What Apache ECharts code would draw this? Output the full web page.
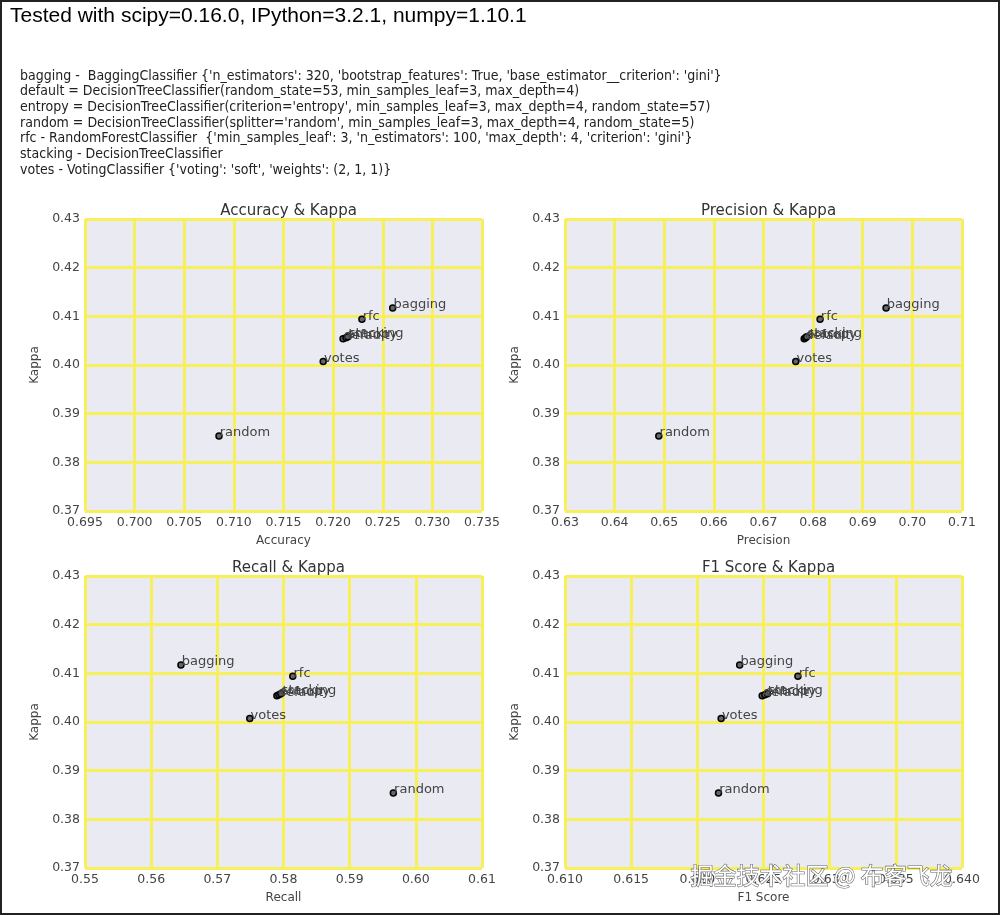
<!DOCTYPE html>
<html>
<head>
<meta charset="utf-8">
<script src="https://cdn.jsdelivr.net/npm/echarts@6/dist/echarts.min.js"></script>
<style>html,body{margin:0;padding:0;background:#fff}#c{width:1000px;height:915px}</style>
</head>
<body>
<div id="c"></div>
<script>
const names = ['bagging', 'default', 'entropy', 'random', 'rfc', 'stacking', 'votes'];
const kappa = [0.4117, 0.4054, 0.4056, 0.3854, 0.4094, 0.4058, 0.4007];
const accuracy = [0.7260, 0.7210, 0.7213, 0.7085, 0.7229, 0.7215, 0.7190];
const precision = [0.6947, 0.6782, 0.6785, 0.6489, 0.6814, 0.6787, 0.6765];
const recall = [0.5645, 0.5790, 0.5793, 0.5966, 0.5814, 0.5796, 0.5749];
const f1 = [0.6232, 0.6249, 0.6251, 0.6216, 0.6276, 0.6253, 0.6218];

const header = 'Tested with scipy=0.16.0, IPython=3.2.1, numpy=1.10.1';
const infoLines = [
  "bagging -  BaggingClassifier {'n_estimators': 320, 'bootstrap_features': True, 'base_estimator__criterion': 'gini'}",
  "default = DecisionTreeClassifier(random_state=53, min_samples_leaf=3, max_depth=4)",
  "entropy = DecisionTreeClassifier(criterion='entropy', min_samples_leaf=3, max_depth=4, random_state=57)",
  "random = DecisionTreeClassifier(splitter='random', min_samples_leaf=3, max_depth=4, random_state=5)",
  "rfc - RandomForestClassifier  {'min_samples_leaf': 3, 'n_estimators': 100, 'max_depth': 4, 'criterion': 'gini'}",
  "stacking - DecisionTreeClassifier",
  "votes - VotingClassifier {'voting': 'soft', 'weights': (2, 1, 1)}"
];

const panels = [
  {title: 'Accuracy & Kappa', xName: 'Accuracy', x: accuracy, min: 0.695, max: 0.735, step: 0.005, dec: 3},
  {title: 'Precision & Kappa', xName: 'Precision', x: precision, min: 0.63, max: 0.71, step: 0.01, dec: 2},
  {title: 'Recall & Kappa', xName: 'Recall', x: recall, min: 0.55, max: 0.61, step: 0.01, dec: 2},
  {title: 'F1 Score & Kappa', xName: 'F1 Score', x: f1, min: 0.610, max: 0.640, step: 0.005, dec: 3}
];
const yTicks = {min: 0.37, max: 0.43, step: 0.01};

const layout = [
  {left: 85, top: 219}, {left: 565, top: 219},
  {left: 85, top: 576}, {left: 565, top: 576}
];
const GW = 397, GH = 292;
const gridColor = '#f7f05a';
const tickColor = '#444';
const fontFam = '"DejaVu Sans", sans-serif';

const chart = echarts.init(document.getElementById('c'), null, {renderer: 'canvas'});

const grids = [], xAxes = [], yAxes = [], series = [], titles = [];
panels.forEach((p, i) => {
  const L = layout[i];
  grids.push({left: L.left, top: L.top, width: GW, height: GH, show: true, backgroundColor: '#eaeaf2', borderWidth: 0});
  titles.push({text: p.title, left: L.left + GW / 2, top: L.top - 20, textAlign: 'center',
    textStyle: {fontFamily: fontFam, fontSize: 15, fontWeight: 'normal', color: '#333'}});
  xAxes.push({
    type: 'value', gridIndex: i, min: p.min, max: p.max, interval: p.step,
    name: p.xName, nameLocation: 'middle', nameGap: 24,
    nameTextStyle: {fontFamily: fontFam, fontSize: 12, color: tickColor},
    axisLine: {show: false}, axisTick: {show: false},
    axisLabel: {fontFamily: fontFam, fontSize: 12.5, color: tickColor, margin: 5,
      formatter: v => v.toFixed(p.dec)},
    splitLine: {show: true, lineStyle: {color: gridColor, width: 3}}
  });
  yAxes.push({
    type: 'value', gridIndex: i, min: yTicks.min, max: yTicks.max, interval: yTicks.step,
    name: 'Kappa', nameLocation: 'middle', nameGap: 44,
    nameTextStyle: {fontFamily: fontFam, fontSize: 12, color: tickColor},
    axisLine: {show: false}, axisTick: {show: false},
    axisLabel: {fontFamily: fontFam, fontSize: 12.5, color: tickColor, margin: 5,
      formatter: v => v.toFixed(2)},
    splitLine: {show: true, lineStyle: {color: gridColor, width: 3}}
  });
  series.push({
    type: 'scatter', xAxisIndex: i, yAxisIndex: i, symbol: 'circle', symbolSize: 6,
    itemStyle: {color: '#666', borderColor: '#000', borderWidth: 1.5, opacity: 1},
    label: {show: true, position: 'right', distance: -3, offset: [0, -3],
      formatter: prm => prm.data[2],
      fontFamily: fontFam, fontSize: 13, color: '#444'},
    data: names.map((n, k) => [p.x[k], kappa[k], n]),
    z: 5
  });
});

const graphics = [
  {type: 'rect', shape: {x: 1, y: 1, width: 998, height: 913}, style: {fill: 'none', stroke: '#222', lineWidth: 2}, z: 100},
  {type: 'text', left: 10, top: 6, style: {text: header, font: '21px "Liberation Sans", Arial, sans-serif', fill: '#000'}}
];
infoLines.forEach((t, k) => {
  graphics.push({type: 'text', left: 20, top: 69 + k * 15.7,
    style: {text: t, font: '14px "DejaVu Sans Condensed", "DejaVu Sans", sans-serif', fill: '#222'}});
});
graphics.push({type: 'text', left: 690, top: 863,
  style: {text: '掘金技术社区 @ 布客飞龙', font: '23px "Noto Sans CJK SC", sans-serif', fill: '#ffffff',
    stroke: '#666', lineWidth: 1.2}, z: 100});

chart.setOption({
  animation: false,
  title: titles,
  grid: grids,
  xAxis: xAxes,
  yAxis: yAxes,
  series: series,
  graphic: graphics
});
</script>
</body>
</html>
